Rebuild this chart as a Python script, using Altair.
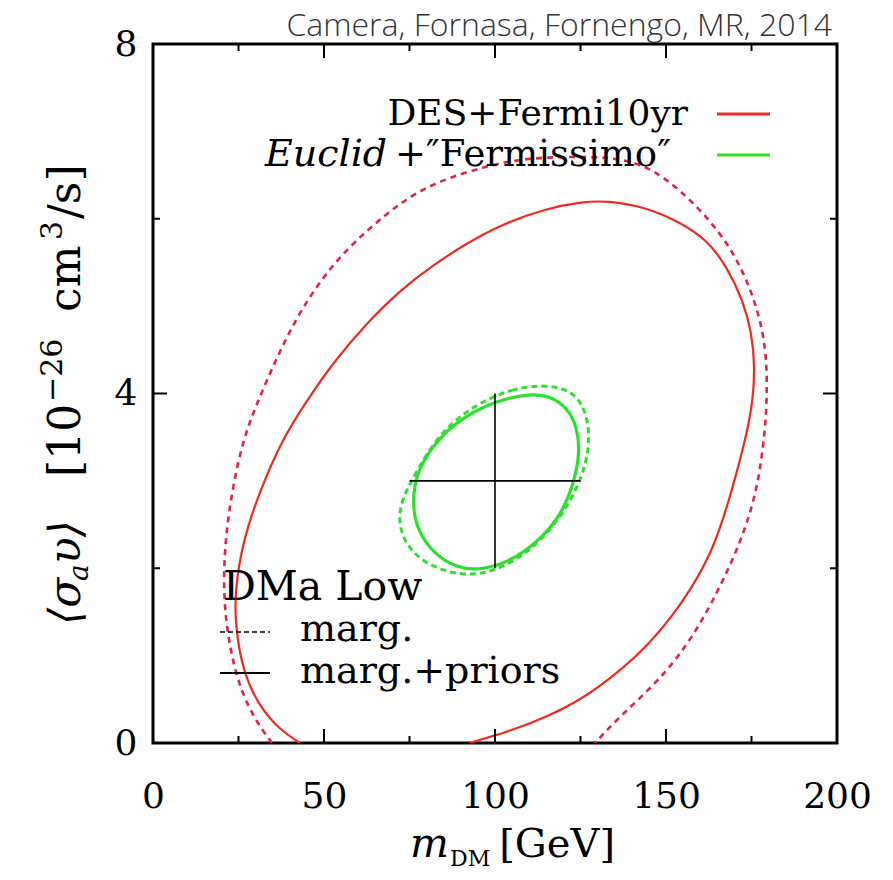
import altair as alt
import pandas as pd

# ---------------- data ----------------
# DES+Fermi10yr, marg.+priors (solid red)
red_solid_x = [43.0, 37.1, 31.3, 26.3, 24.0, 24.0, 26.3, 31.3, 37.7, 45.0,
               52.6, 62.6, 72.2, 81.9, 91.8, 101.5, 115.2, 124.9, 132.7, 144.4,
               154.1, 162.0, 167.8, 172.5, 175.1, 176.0, 175.4, 173.7, 169.6, 163.7,
               154.1, 144.4, 134.5, 124.9, 115.2, 105.3, 97.7, 92.7]
red_solid_y = [0.00, 0.15, 0.41, 0.80, 1.37, 1.75, 2.32, 2.89, 3.47, 3.92,
               4.35, 4.81, 5.18, 5.47, 5.72, 5.93, 6.12, 6.19, 6.21, 6.13,
               5.96, 5.76, 5.45, 5.07, 4.69, 4.30, 3.92, 3.55, 2.93, 2.17,
               1.56, 1.10, 0.76, 0.49, 0.30, 0.15, 0.06, 0.00]
# DES+Fermi10yr, marg. (dashed red)
red_dash_x = [34.8, 30.4, 25.4, 21.9, 20.5, 21.1, 23.1, 26.3, 30.4, 36.3,
              43.0, 52.6, 62.6, 72.2, 81.9, 97.7, 110.2, 124.9, 133.0, 139.5,
              146.2, 154.1, 162.0, 168.7, 173.7, 177.5, 179.5, 179.5, 178.9, 176.9,
              172.5, 165.8, 157.9, 148.2, 137.4, 129.2]
red_dash_y = [0.0, 0.23, 0.61, 1.18, 1.75, 2.32, 2.89, 3.47, 3.89, 4.42,
              4.95, 5.49, 5.87, 6.18, 6.41, 6.61, 6.70, 6.71, 6.70, 6.66,
              6.56, 6.33, 6.02, 5.68, 5.30, 4.87, 4.42, 3.92, 3.55, 2.93,
              2.36, 1.78, 1.21, 0.72, 0.34, 0.0]
# Euclid+"Fermissimo", marg.+priors (solid green, closed)
green_solid_x = [110.2, 100.6, 90.6, 83.0, 77.2, 75.7, 77.2, 81.9, 88.9, 95.6,
                 103.5, 112.3, 119.0, 122.8, 124.9, 124.0, 121.1, 116.1]
green_solid_y = [4.00, 3.92, 3.73, 3.47, 3.12, 2.75, 2.44, 2.17, 2.00, 1.98,
                 2.06, 2.29, 2.59, 2.93, 3.32, 3.62, 3.84, 3.97]
# Euclid+"Fermissimo", marg. (dashed green, closed)
green_dash_x = [113.2, 105.3, 98.5, 90.0, 82.5, 77.0, 73.5, 71.6, 73.1, 78.1,
                86.0, 93.6, 100.6, 109.4, 117.0, 122.8, 126.9, 127.8, 125.7, 121.1]
green_dash_y = [4.10, 4.05, 3.95, 3.76, 3.47, 3.10, 2.85, 2.60, 2.32, 2.09,
                1.95, 1.92, 1.98, 2.17, 2.47, 2.81, 3.20, 3.58, 3.89, 4.06]
# fiducial model cross
cross_h_x = [75, 125]
cross_h_y = [3, 3]
cross_v_x = [100, 100]
cross_v_y = [2, 4]

x_labels = [0, 50, 100, 150, 200]
y_labels = [0, 4, 8]
x_major = [50, 100, 150]
x_minor = [25, 75, 125, 175]
y_major = [4]
y_minor = [2, 6]

# ---------------- layout ----------------
W, H = 684, 699
RED = "#ec2a22"
RED_D = "#dc2648"
GREEN = "#2ee02e"
SERIF = "DejaVu Serif"

xsc = alt.Scale(domain=[0, 200], nice=False, zero=False)
ysc = alt.Scale(domain=[0, 8], nice=False, zero=False)
xaxis = alt.Axis(values=x_labels, title=None, labelPadding=36, labelFlush=False,
                 labelOverlap=False)
yaxis = alt.Axis(values=y_labels, title=None, labelPadding=16, labelFlush=False,
                 labelOverlap=False)


def curve(xs, ys, color, width, dash=None, closed=False, smooth=True):
    df = pd.DataFrame({"x": xs, "y": ys, "i": list(range(len(xs)))})
    if smooth:
        interp = "basis-closed" if closed else "basis"
    else:
        interp = "linear"
    mk = dict(color=color, strokeWidth=width, clip=True, interpolate=interp)
    if dash:
        mk["strokeDash"] = dash
    return alt.Chart(df).mark_line(**mk).encode(
        x=alt.X("x:Q", scale=xsc, axis=xaxis),
        y=alt.Y("y:Q", scale=ysc, axis=yaxis),
        order="i:Q",
    )


def ticks_x(vals, length):
    df = pd.DataFrame({"v": vals})
    b = alt.Chart(df).mark_rule(color="black", strokeWidth=2).encode(
        x=alt.X("v:Q", scale=xsc, axis=xaxis), y=alt.value(H), y2=alt.value(H - length))
    t = alt.Chart(df).mark_rule(color="black", strokeWidth=2).encode(
        x=alt.X("v:Q", scale=xsc, axis=xaxis), y=alt.value(0), y2=alt.value(length))
    return [b, t]


def ticks_y(vals, length):
    df = pd.DataFrame({"v": vals})
    l = alt.Chart(df).mark_rule(color="black", strokeWidth=2).encode(
        y=alt.Y("v:Q", scale=ysc, axis=yaxis), x=alt.value(0), x2=alt.value(length))
    r = alt.Chart(df).mark_rule(color="black", strokeWidth=2).encode(
        y=alt.Y("v:Q", scale=ysc, axis=yaxis), x=alt.value(W), x2=alt.value(W - length))
    return [l, r]


def txt(s, x, y, size, align="left", baseline="alphabetic", font=SERIF,
        style="normal", weight="normal", angle=0, color="black"):
    return alt.Chart(alt.Data(values=[{}])).mark_text(
        text=s, align=align, baseline=baseline, font=font, fontSize=size,
        fontStyle=style, fontWeight=weight, angle=angle, color=color,
    ).encode(x=alt.value(x), y=alt.value(y))


def seg(x1, x2, y, color, width, dash=None):
    mk = dict(color=color, strokeWidth=width)
    if dash:
        mk["strokeDash"] = dash
    return alt.Chart(alt.Data(values=[{}])).mark_rule(**mk).encode(
        x=alt.value(x1), x2=alt.value(x2), y=alt.value(y))


layers = [
    curve(red_dash_x, red_dash_y, RED_D, 2.6, dash=[6, 5]),
    curve(red_solid_x, red_solid_y, RED, 2.2),
    curve(green_dash_x, green_dash_y, GREEN, 3, dash=[6, 4], closed=True),
    curve(green_solid_x, green_solid_y, GREEN, 3.2, closed=True),
    curve(cross_h_x, cross_h_y, "black", 1.6, smooth=False),
    curve(cross_v_x, cross_v_y, "black", 1.6, smooth=False),
]
layers += ticks_x(x_major, 14) + ticks_x(x_minor, 7)
layers += ticks_y(y_major, 14) + ticks_y(y_minor, 7)

# legend (top right)
layers += [
    txt("DES+Fermi10yr", 535, 81, 36, align="right"),
    seg(564, 617, 70, RED, 3),
    txt("Euclid", 112, 122, 38, style="italic"),
    txt("+\u2033Fermissimo\u2033", 242, 122, 37),
    seg(564, 617, 111, GREEN, 3),
]
# legend (bottom left)
layers += [
    txt("DMa Low", 70, 556, 41),
    seg(67, 117, 588, "black", 1.6, dash=[5, 3]),
    txt("marg.", 147, 597, 38),
    seg(67, 117, 629, "black", 2),
    txt("marg.+priors", 147, 639, 38),
]
# credit line
layers += [txt("Camera, Fornasa, Fornengo, MR, 2014", 679, -8, 32, align="right",
               font="Open Sans", weight=300, color="#333333")]
# x-axis title
layers += [
    txt("m", 257, 813, 41, style="italic"),
    txt("DM", 297, 822, 22),
    txt("[GeV]", 462, 813, 40, align="right"),
]
# y-axis title (rotated pieces, reading bottom to top)
YB = -73   # baseline of main text
YS = -91   # baseline of superscripts
YL = -65   # baseline of subscripts
layers += [
    txt("\u27e8\u03c3", YB, 581, 44, angle=270, style="italic"),
    txt("a", YL, 537, 28, angle=270, style="italic"),
    txt("\u03c5\u27e9", YB, 520, 44, angle=270, style="italic"),
    txt("[10", YB, 433, 44, angle=270),
    txt("\u221226", YS, 358, 30, angle=270),
    txt("cm", YB, 268, 44, angle=270),
    txt("3", YS, 196, 30, angle=270),
    txt("/s]", YB, 175, 44, angle=270),
]

chart = alt.layer(*layers).properties(
    width=W, height=H,
    autosize=alt.AutoSizeParams(type="none"),
    padding={"left": 145, "top": 36, "right": 48, "bottom": 128},
).configure_view(
    stroke="black", strokeWidth=3
).configure_axis(
    labelFont=SERIF, labelFontSize=36, labelColor="black", tickSize=0,
    domain=False, grid=False,
)

chart.save("out.html", embed_options={"renderer": "svg", "actions": False})
